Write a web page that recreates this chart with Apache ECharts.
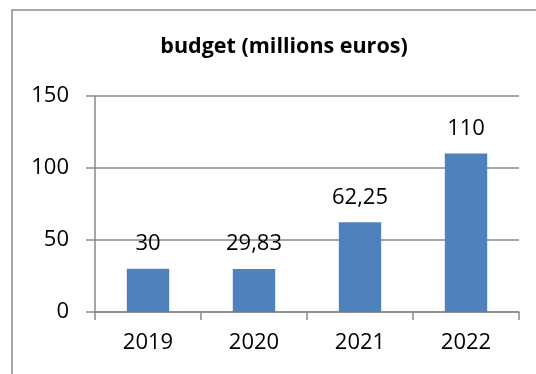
<!DOCTYPE html>
<html>
<head>
<meta charset="utf-8">
<style>
  html, body { margin: 0; padding: 0; background: #fff; }
  #chart { width: 536px; height: 374px; }
</style>
<script src="https://cdn.jsdelivr.net/npm/echarts@6/dist/echarts.min.js"></script>
</head>
<body>
<div id="chart"></div>
<script>
// Annual budget, millions of euros
const years = ['2019', '2020', '2021', '2022'];
const budget = [30, 29.83, 62.25, 110];
const yTicks = { min: 0, max: 150, step: 50 };

const FONT = '"Open Sans", sans-serif';
const GRID_GRAY = '#898989';

const chart = echarts.init(document.getElementById('chart'), null, { renderer: 'canvas' });

chart.setOption({
  animation: false,
  backgroundColor: '#ffffff',
  title: {
    text: 'budget (millions euros)',
    left: 279,
    textAlign: 'center',
    top: 31,
    textStyle: { fontFamily: FONT, fontWeight: 'bold', fontSize: 21.5, color: '#000' }
  },
  graphic: [{
    type: 'rect',
    shape: { x: 12, y: 10, width: 700, height: 500 },
    style: { fill: 'none', stroke: '#8a8a8a', lineWidth: 1.5 },
    silent: true,
    z: -1
  }],
  grid: { left: 95, right: 17, top: 96, bottom: 62 },
  xAxis: {
    type: 'category',
    data: years,
    axisLine: { show: true, lineStyle: { color: GRID_GRAY, width: 1.5 } },
    axisTick: { show: true, alignWithLabel: false, length: 8, lineStyle: { color: GRID_GRAY, width: 1.5 } },
    axisLabel: { fontFamily: FONT, fontSize: 22, color: '#000', margin: 20 }
  },
  yAxis: {
    type: 'value',
    min: yTicks.min,
    max: yTicks.max,
    interval: yTicks.step,
    axisLine: { show: true, lineStyle: { color: GRID_GRAY, width: 1.5 } },
    axisTick: { show: true, length: 9, lineStyle: { color: GRID_GRAY, width: 1.5 } },
    splitLine: { show: true, lineStyle: { color: GRID_GRAY, width: 1.5 } },
    axisLabel: { fontFamily: FONT, fontSize: 22, color: '#000', margin: 26 }
  },
  series: [{
    type: 'bar',
    data: budget,
    barWidth: '40%',
    itemStyle: { color: '#4F81BD' },
    label: {
      show: true,
      position: 'top',
      distance: 14,
      fontFamily: FONT,
      fontSize: 22,
      color: '#000',
      formatter: p => String(p.value).replace('.', ',')
    }
  }]
});
</script>
</body>
</html>
